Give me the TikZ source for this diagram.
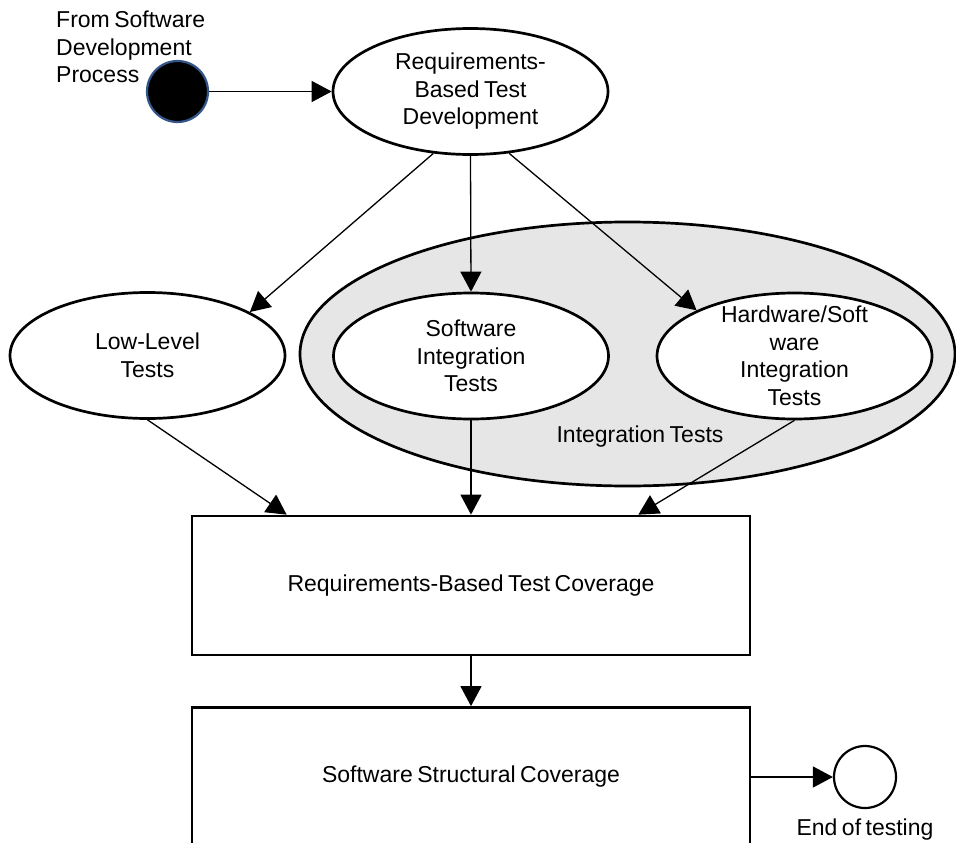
\documentclass[tikz,border=0pt]{standalone}
\usepackage{fontspec}
\setmainfont{Liberation Sans}[WordSpace=0.7]
\usetikzlibrary{arrows.meta,calc,shapes.geometric}

\definecolor{ringblue}{HTML}{34558A}
\definecolor{groupgray}{HTML}{E6E6E6}

\begin{document}
\begin{tikzpicture}[x=1pt,y=-1pt,
  every node/.style={font=\fontsize{23}{27.5}\selectfont},
  oval/.style={draw, ellipse, line width=2.7pt, fill=white,
    minimum width=275pt, minimum height=126pt, inner sep=0pt},
  ovaltext/.style={align=center, inner sep=0pt},
  groupoval/.style={draw, ellipse, line width=2.7pt, fill=groupgray,
    minimum width=655pt, minimum height=264pt, inner sep=0pt},
  stepbox/.style={draw, line width=2.7pt, fill=white,
    minimum width=558pt, minimum height=139pt, inner sep=0pt},
  startdot/.style={circle, draw=ringblue, fill=black, line width=2.2pt,
    minimum size=61pt, inner sep=0pt},
  enddot/.style={circle, draw, fill=white, line width=2.2pt,
    minimum size=62pt, inner sep=0pt},
  conn/.style={line width=1.3pt, -{Triangle[length=20pt,width=21pt]}}
]
\useasboundingbox (0,0) rectangle (956,843);
\clip (0,0) rectangle (956,843);

% grouping of the integration tests
\node[groupoval] (integ) at (627.5,354) {};
\node[inner sep=0pt] (integlabel) at (640,437) {Integration Tests};

% start point
\node[startdot] (start) at (177.5,91.5) {};
\node[align=left, anchor=west, inner sep=0pt] (starttext) at (56,47)
  {From Software\\Development\\Process};

% test activities
\node[oval, label={[ovaltext]center:{Requirements-\\Based Test\\Development}}]
  (req) at (470.5,91.5) {};
\node[oval, label={[ovaltext]center:{Low-Level\\Tests}}]
  (low) at (147.5,355.5) {};
\node[oval, label={[ovaltext]center:{Software\\Integration\\Tests}}]
  (sw) at (471,356) {};
\node[oval, label={[ovaltext]center:{Hardware/Soft\\ware\\Integration\\Tests}}]
  (hw) at (794.5,356) {};

% coverage analyses
\node[stepbox] (cov) at (471,585.5) {Requirements-Based Test Coverage};
\node[stepbox] (struct) at (471,777) {Software Structural Coverage};

% end point
\node[enddot] (finish) at (865,777) {};
\node[inner sep=0pt] (finishtext) at (865,830) {End of testing};

% flow
\draw[conn] (start) -- (req);
\draw[conn] (req.239) -- (low.23.6);
\draw[conn] (req.south) -- (sw.north);
\draw[conn] (req.302) -- (hw.155.7);
\draw[conn] (low.south) -- ($(cov.north west)+(96,0)$);
\draw[conn] (sw.south) -- (cov.north);
\draw[conn] (hw.south) -- ($(cov.north east)+(-113,0)$);
\draw[conn] (cov.south) -- (struct.north);
\draw[conn] (struct.east) -- (finish.west);
\end{tikzpicture}
\end{document}
